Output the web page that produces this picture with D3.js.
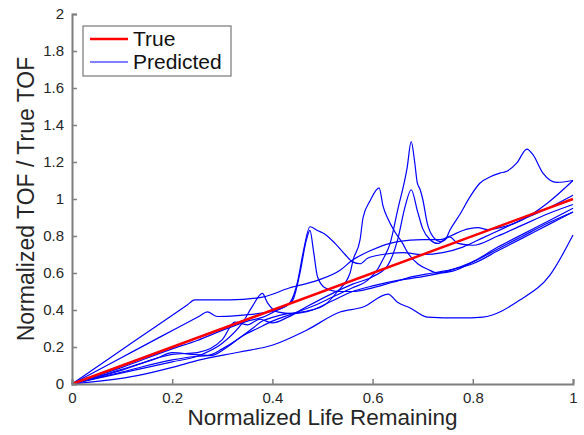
<!DOCTYPE html>
<html><head><meta charset="utf-8">
<script src="https://cdn.jsdelivr.net/npm/d3@7"></script>
<style>body{margin:0;background:#fff}</style>
</head><body>
<svg id="chart" width="584" height="435"></svg>
<script>
const xTicks = [0, 0.2, 0.4, 0.6, 0.8, 1];
const yTicks = [0, 0.2, 0.4, 0.6, 0.8, 1, 1.2, 1.4, 1.6, 1.8, 2];
const trueLine = [[0,0],[1,1]];
const predA = [[0,0],[0.08,0.149],[0.16,0.297],[0.23,0.427],[0.245,0.455],[0.315,0.455],[0.38,0.47],[0.435,0.52],[0.49,0.56],[0.535,0.615],[0.56,0.67],[0.595,0.72],[0.65,0.77],[0.70,0.78],[0.735,0.78],[0.755,0.80],[0.78,0.83],[0.81,0.845],[0.83,0.835],[0.855,0.845],[0.90,0.89],[0.95,0.98],[1.0,1.10]];
const predB = [[0,0],[0.09,0.13],[0.18,0.26],[0.255,0.368],[0.27,0.39],[0.29,0.365],[0.33,0.37],[0.37,0.38],[0.41,0.40],[0.435,0.44],[0.45,0.55],[0.462,0.72],[0.475,0.85],[0.49,0.83],[0.505,0.81],[0.525,0.76],[0.545,0.70],[0.56,0.66],[0.575,0.65],[0.59,0.68],[0.62,0.70],[0.66,0.71],[0.70,0.70],[0.74,0.71],[0.78,0.74],[0.82,0.79],[0.86,0.84],[0.90,0.89],[0.95,0.95],[1.0,1.02]];
const predC = [[0,0],[0.1,0.09],[0.2,0.19],[0.25,0.235],[0.30,0.29],[0.35,0.34],[0.38,0.36],[0.41,0.40],[0.44,0.45],[0.455,0.60],[0.468,0.78],[0.475,0.83],[0.482,0.72],[0.49,0.58],[0.505,0.52],[0.53,0.50],[0.56,0.50],[0.60,0.52],[0.64,0.55],[0.68,0.58],[0.72,0.60],[0.76,0.62],[0.80,0.65],[0.85,0.72],[0.90,0.79],[0.95,0.86],[1.0,0.93]];
const predD = [[0,0],[0.1,0.08],[0.17,0.14],[0.2,0.17],[0.24,0.16],[0.27,0.155],[0.30,0.19],[0.33,0.24],[0.36,0.30],[0.38,0.34],[0.40,0.36],[0.43,0.38],[0.46,0.39],[0.50,0.42],[0.53,0.50],[0.555,0.60],[0.561,0.67],[0.575,0.78],[0.581,0.90],[0.595,0.99],[0.613,1.06],[0.621,0.96],[0.631,0.89],[0.645,0.82],[0.66,0.76],[0.67,0.71],[0.69,0.65],[0.71,0.62],[0.73,0.60],[0.76,0.61],[0.80,0.66],[0.85,0.74],[0.90,0.81],[0.95,0.88],[1.0,0.95]];
const predE = [[0,0],[0.1,0.065],[0.2,0.13],[0.25,0.15],[0.28,0.155],[0.31,0.20],[0.34,0.26],[0.37,0.30],[0.40,0.34],[0.44,0.38],[0.48,0.42],[0.52,0.47],[0.56,0.52],[0.59,0.56],[0.61,0.62],[0.62,0.67],[0.635,0.76],[0.65,0.94],[0.669,1.17],[0.677,1.31],[0.684,1.20],[0.689,1.09],[0.695,1.05],[0.70,1.0],[0.709,0.87],[0.721,0.795],[0.735,0.77],[0.745,0.78],[0.754,0.83],[0.775,0.92],[0.794,1.01],[0.814,1.085],[0.835,1.12],[0.854,1.14],[0.868,1.15],[0.888,1.195],[0.908,1.27],[0.92,1.24],[0.94,1.14],[0.968,1.09],[1.0,1.10]];
const predF = [[0,0],[0.1,0.075],[0.2,0.16],[0.25,0.17],[0.30,0.24],[0.325,0.335],[0.35,0.32],[0.375,0.35],[0.40,0.33],[0.43,0.36],[0.47,0.42],[0.52,0.49],[0.56,0.54],[0.60,0.58],[0.63,0.64],[0.65,0.78],[0.665,0.96],[0.677,1.05],[0.69,0.93],[0.70,0.84],[0.715,0.78],[0.73,0.76],[0.754,0.795],[0.77,0.76],[0.80,0.75],[0.85,0.80],[0.90,0.86],[0.95,0.92],[1.0,0.97]];
const predG = [[0,0],[0.13,0.045],[0.2,0.09],[0.255,0.13],[0.335,0.173],[0.401,0.211],[0.469,0.292],[0.535,0.389],[0.581,0.416],[0.631,0.486],[0.649,0.443],[0.675,0.411],[0.709,0.362],[0.774,0.357],[0.82,0.362],[0.894,0.454],[0.954,0.589],[1.0,0.805]];
const predH = [[0,0],[0.1,0.06],[0.2,0.12],[0.25,0.15],[0.30,0.22],[0.34,0.33],[0.36,0.42],[0.38,0.49],[0.39,0.44],[0.41,0.39],[0.44,0.38],[0.48,0.40],[0.52,0.45],[0.56,0.50],[0.60,0.53],[0.65,0.56],[0.70,0.58],[0.75,0.61],[0.80,0.66],[0.85,0.73],[0.90,0.80],[0.95,0.87],[1.0,0.93]];
const predicted = [predA, predB, predC, predD, predE, predF, predG, predH];

(function(){
const svg = d3.select("#chart");
const mL = 72, mR = 573, mT = 14, mB = 384;
const x = d3.scaleLinear().domain([0,1]).range([mL,mR]);
const y = d3.scaleLinear().domain([0,2]).range([mB,mT]);
const font = "'Liberation Sans', Arial, Helvetica, sans-serif";

const line = d3.line().x(d=>x(d[0])).y(d=>y(d[1])).curve(d3.curveMonotoneX);

const plot = svg.append("g");
predicted.forEach(s => plot.append("path").attr("d", line(s)).attr("fill","none")
  .attr("stroke","#0000ff").attr("stroke-width",1.2).attr("stroke-linejoin","round"));
plot.append("path").attr("d", d3.line().x(d=>x(d[0])).y(d=>y(d[1]))(trueLine))
  .attr("fill","none").attr("stroke","#ff0000").attr("stroke-width",2.5);

const axisColor = "#7f7f7f";
const xAxis = svg.append("g").attr("transform",`translate(0,${mB})`)
  .call(d3.axisBottom(x).tickValues(xTicks).tickSize(-5).tickPadding(8).tickFormat(d3.format("")));
const yAxis = svg.append("g").attr("transform",`translate(${mL},0)`)
  .call(d3.axisLeft(y).tickValues(yTicks).tickSize(-5).tickPadding(8).tickFormat(d3.format("")));
[xAxis,yAxis].forEach(a=>{
  a.select(".domain").attr("stroke",axisColor).attr("stroke-width",2);
  a.selectAll(".tick line").attr("stroke",axisColor).attr("stroke-width",1.5);
  a.selectAll(".tick text").attr("fill","#262626").style("font-family",font).style("font-size","15px");
});

svg.append("text").attr("x",(mL+mR)/2).attr("y",425).attr("text-anchor","middle")
  .style("font-family",font).style("font-size","22.5px").attr("fill","#262626").text("Normalized Life Remaining");
svg.append("text").attr("transform",`translate(34,${(mT+mB)/2}) rotate(-90)`).attr("text-anchor","middle")
  .style("font-family",font).style("font-size","23px").attr("fill","#262626").text("Normalized TOF / True TOF");

const lg = svg.append("g");
lg.append("rect").attr("x",83).attr("y",26).attr("width",148).attr("height",50)
  .attr("fill","#fff").attr("stroke","#777").attr("stroke-width",1.2);
const legendItems = [{label:"True", color:"#ff0000", w:2.5},{label:"Predicted", color:"#0000ff", w:1.2}];
legendItems.forEach((it,i)=>{
  const yy = 39 + i*23;
  lg.append("line").attr("x1",90).attr("x2",128).attr("y1",yy).attr("y2",yy).attr("stroke",it.color).attr("stroke-width",it.w);
  lg.append("text").attr("x",133).attr("y",yy+7).style("font-family",font).style("font-size","21px").attr("fill","#111").text(it.label);
});
})();
</script>
</body></html>
